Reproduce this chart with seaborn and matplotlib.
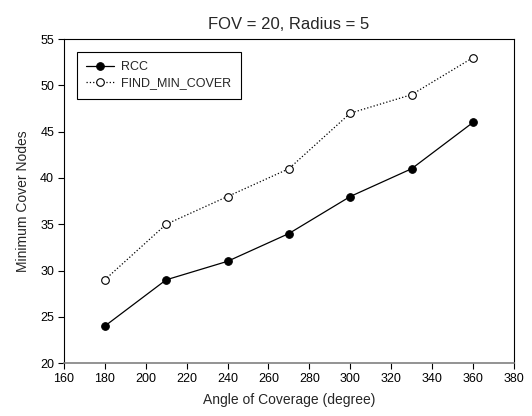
import matplotlib
matplotlib.use("Agg")
import matplotlib.pyplot as plt
import seaborn as sns

angles = [180, 210, 240, 270, 300, 330, 360]
rcc = [24, 29, 31, 34, 38, 41, 46]
find_min_cover = [29, 35, 38, 41, 47, 49, 53]

sns.set_style("ticks")
plt.rcParams['font.family'] = ['Liberation Sans', 'DejaVu Sans']
plt.rcParams['font.size'] = 9

fig = plt.figure(figsize=(5.32, 4.16), dpi=100)
ax = fig.add_axes([0.120, 0.127, 0.846, 0.779])

sns.lineplot(x=angles, y=rcc, ax=ax, color='black', linewidth=0.9, linestyle='-',
             marker='o', markersize=5.5, markerfacecolor='black', markeredgecolor='black',
             label='RCC')
sns.lineplot(x=angles, y=find_min_cover, ax=ax, color='black', linewidth=0.9, linestyle=':',
             marker='o', markersize=5.5, markerfacecolor='white', markeredgecolor='black',
             markeredgewidth=0.8, label='FIND_MIN_COVER')

ax.set_xlim(160, 380)
ax.set_ylim(20, 55)
ax.set_xticks(range(160, 381, 20))
ax.set_yticks(range(20, 56, 5))
ax.tick_params(direction='out', length=4, width=0.8, labelsize=9, colors='black', pad=3)
for s in ax.spines.values():
    s.set_visible(True)
    s.set_color('black')
    s.set_linewidth(0.8)
ax.spines['bottom'].set_color('#808080')
ax.spines['bottom'].set_linewidth(1.2)

ax.set_title('FOV = 20, Radius = 5', fontsize=12, pad=7)
ax.set_xlabel('Angle of Coverage (degree)', fontsize=10, labelpad=6)
ax.set_ylabel('Minimum Cover Nodes', fontsize=10, labelpad=7)

leg = ax.legend(loc='upper left', bbox_to_anchor=(0.029, 0.96), borderaxespad=0,
                fancybox=False, framealpha=1, edgecolor='black', fontsize=9,
                handlelength=2.2, borderpad=0.75, labelspacing=0.3, handletextpad=0.6)
leg.get_frame().set_linewidth(0.8)

fig.savefig('out.png', dpi=100)
